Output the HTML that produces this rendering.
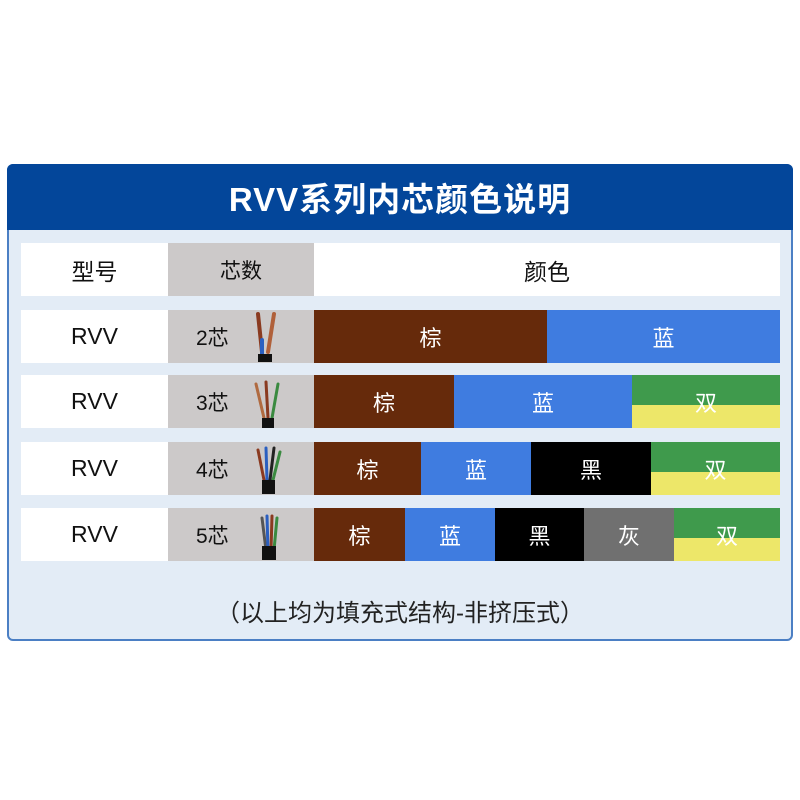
<!DOCTYPE html><html><head><meta charset="utf-8"><style>
body{margin:0;width:800px;height:800px;background:#fff;position:relative;font-family:"Liberation Sans","Noto Sans CJK SC",sans-serif;overflow:hidden}
div{position:absolute;box-sizing:border-box}
.c{display:flex;align-items:center;justify-content:center;font-size:22px}
.w{color:#fff}
.br{background:#662a0b}.bl{background:#3f7ce0}.bk{background:#000}.gr{background:#707070}
.du{background:linear-gradient(#3f9a4c 0 57%,#ede769 57% 100%)}
.m{background:#fff;color:#111;font-size:23px}
.k{background:#ccc9c9;color:#111;font-size:21px}
</style></head><body>
<div style="left:7px;top:164px;width:786px;height:477px;border:2px solid #4b7fc4;border-radius:6px;background:#e3ecf6"></div>
<div class="c w" style="left:7px;top:164px;width:786px;height:66px;background:#03469a;border-radius:6px 6px 0 0;font-size:33px;font-weight:bold;letter-spacing:1px">RVV系列内芯颜色说明</div>

<div class="c m" style="left:21px;top:243px;width:147px;height:53px">型号</div>
<div class="c k" style="left:168px;top:243px;width:146px;height:53px">芯数</div>
<div class="c m" style="left:314px;top:243px;width:466px;height:53px">颜色</div>

<div class="c m" style="left:21px;top:310px;width:147px;height:53px">RVV</div>
<div class="c k" style="left:168px;top:310px;width:146px;height:53px;justify-content:flex-start;padding-left:28px">2芯</div>
<div class="c w br" style="left:314px;top:310px;width:233px;height:53px">棕</div>
<div class="c w bl" style="left:547px;top:310px;width:233px;height:53px">蓝</div>

<div class="c m" style="left:21px;top:375px;width:147px;height:53px">RVV</div>
<div class="c k" style="left:168px;top:375px;width:146px;height:53px;justify-content:flex-start;padding-left:28px">3芯</div>
<div class="c w br" style="left:314px;top:375px;width:140px;height:53px">棕</div>
<div class="c w bl" style="left:454px;top:375px;width:178px;height:53px">蓝</div>
<div class="c w du" style="left:632px;top:375px;width:148px;height:53px">双</div>

<div class="c m" style="left:21px;top:442px;width:147px;height:53px">RVV</div>
<div class="c k" style="left:168px;top:442px;width:146px;height:53px;justify-content:flex-start;padding-left:28px">4芯</div>
<div class="c w br" style="left:314px;top:442px;width:107px;height:53px">棕</div>
<div class="c w bl" style="left:421px;top:442px;width:110px;height:53px">蓝</div>
<div class="c w bk" style="left:531px;top:442px;width:120px;height:53px">黑</div>
<div class="c w du" style="left:651px;top:442px;width:129px;height:53px">双</div>

<div class="c m" style="left:21px;top:508px;width:147px;height:53px">RVV</div>
<div class="c k" style="left:168px;top:508px;width:146px;height:53px;justify-content:flex-start;padding-left:28px">5芯</div>
<div class="c w br" style="left:314px;top:508px;width:91px;height:53px">棕</div>
<div class="c w bl" style="left:405px;top:508px;width:90px;height:53px">蓝</div>
<div class="c w bk" style="left:495px;top:508px;width:89px;height:53px">黑</div>
<div class="c w gr" style="left:584px;top:508px;width:90px;height:53px">灰</div>
<div class="c w du" style="left:674px;top:508px;width:106px;height:53px">双</div>

<svg style="position:absolute;left:240px;top:300px" width="60" height="270">
<g stroke-linecap="round">
<line x1="18" y1="14" x2="22" y2="52" stroke="#8a3a20" stroke-width="4"/><line x1="34" y1="14" x2="28" y2="52" stroke="#b0603a" stroke-width="4"/><line x1="22" y1="40" x2="22" y2="54" stroke="#2a5fc0" stroke-width="4"/><rect x="18" y="54" width="14" height="8" fill="#111"/>
<line x1="16" y1="84" x2="24" y2="118" stroke="#b06a40" stroke-width="3"/><line x1="26" y1="82" x2="28" y2="118" stroke="#8a3a20" stroke-width="3"/><line x1="38" y1="84" x2="32" y2="118" stroke="#3a8a40" stroke-width="3"/><rect x="22" y="118" width="12" height="10" fill="#111"/>
<line x1="18" y1="150" x2="24" y2="180" stroke="#8a3a20" stroke-width="3"/><line x1="26" y1="148" x2="27" y2="180" stroke="#2a5fc0" stroke-width="3"/><line x1="34" y1="148" x2="30" y2="180" stroke="#222" stroke-width="3"/><line x1="40" y1="152" x2="33" y2="180" stroke="#3a8a40" stroke-width="3"/><rect x="22" y="180" width="13" height="14" fill="#111"/>
<line x1="22" y1="218" x2="26" y2="250" stroke="#555" stroke-width="3"/><line x1="27" y1="216" x2="28" y2="250" stroke="#2a5fc0" stroke-width="3"/><line x1="32" y1="216" x2="31" y2="250" stroke="#8a3a20" stroke-width="3"/><line x1="37" y1="218" x2="34" y2="250" stroke="#3a8a40" stroke-width="3"/><rect x="22" y="246" width="14" height="14" fill="#111"/>
</g></svg>

<div class="c" style="left:7px;top:590px;width:786px;height:40px;font-size:24px;color:#222">（以上均为填充式结构-非挤压式）</div>
</body></html>
